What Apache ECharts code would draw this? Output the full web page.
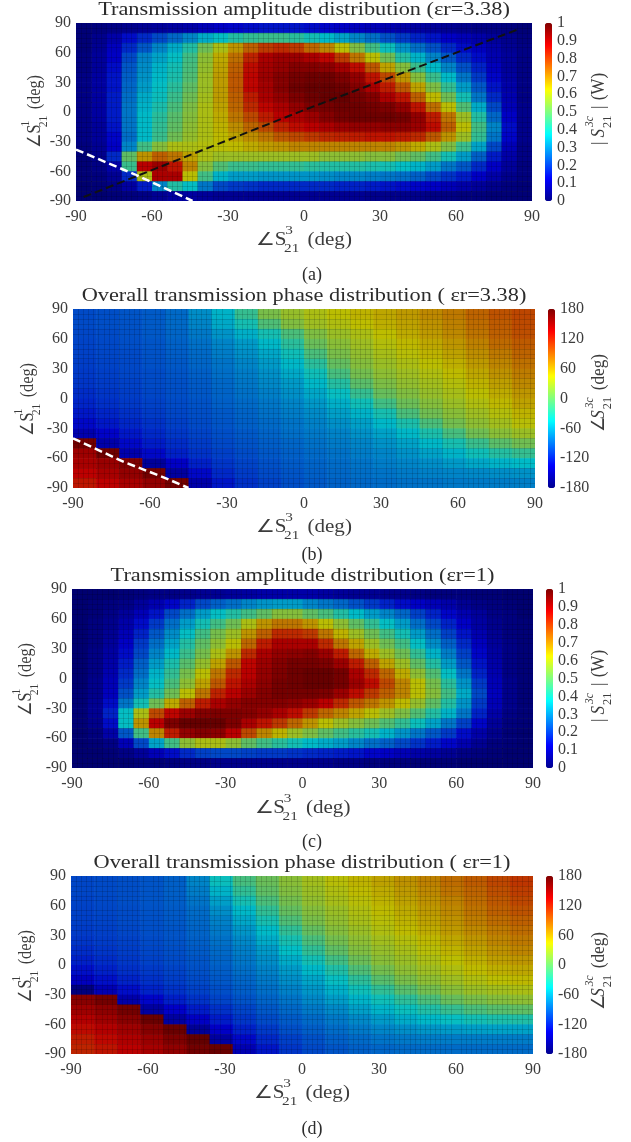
<!DOCTYPE html>
<html><head><meta charset="utf-8">
<style>html,body{margin:0;padding:0;background:#fff}#c{width:631px;height:1142px}</style>
<script src="https://cdn.jsdelivr.net/npm/echarts@6/dist/echarts.min.js"></script>
</head><body><div id="c"></div>
<script>
// x cell centres (deg), y cell centres (deg)
const s3Amp=[-87,-81,-75,-69,-63,-57,-51,-45,-39,-33,-27,-21,-15,-9,-3,3,9,15,21,27,33,39,45,51,57,63,69,75,81,87];
const s3Phase=[-85.5,-76.5,-67.5,-58.5,-49.5,-40.5,-31.5,-22.5,-13.5,-4.5,4.5,13.5,22.5,31.5,40.5,49.5,58.5,67.5,76.5,85.5];
const s1Centers=[85,75,65,55,45,35,25,15,5,-5,-15,-25,-35,-45,-55,-65,-75,-85];
const titles=['Transmission amplitude distribution (εr=3.38)','Overall transmission phase distribution ( εr=3.38)','Transmission amplitude distribution (εr=1)','Overall transmission phase distribution ( εr=1)'];
const captions=['(a)','(b)','(c)','(d)'];
// amplitude, percent of 1 W
const amplitudeA=[
[1,2,3,4,5,6,7,8,10,12,13,14,15,15,15,14,13,12,11,10,9,8,7,6,5,4,3,3,2,1],
[1,4,8,14,18,22,26,30,35,38,42,44,45,45,43,40,37,34,30,27,23,20,17,15,12,10,8,6,4,2],
[1,5,11,18,24,30,35,42,52,60,68,75,80,82,80,74,70,62,54,46,39,32,27,23,18,14,11,8,5,3],
[2,6,12,22,30,34,38,46,56,65,73,83,90,92,92,90,87,80,72,62,52,42,36,30,24,18,14,9,6,3],
[2,6,14,24,31,36,40,47,57,66,75,86,91,93,95,95,94,91,86,76,66,55,45,37,30,23,17,11,6,3],
[3,7,15,25,32,37,41,48,58,67,76,87,92,95,97,98,98,96,93,85,78,68,55,45,37,28,20,13,7,3],
[3,7,15,26,33,38,43,50,58,67,76,87,91,95,98,99,99,98,95,90,84,76,66,54,44,33,24,15,8,3],
[3,7,16,27,35,39,45,52,59,67,75,84,90,93,96,98,99,99,97,95,90,85,75,63,52,40,28,18,9,3],
[3,7,16,28,36,41,47,54,60,66,74,82,87,90,93,96,97,98,98,97,96,93,85,73,62,48,35,22,10,4],
[3,7,16,28,37,43,49,55,60,65,72,78,84,88,90,92,95,97,98,98,98,97,93,84,72,58,42,26,12,4],
[3,6,15,28,37,44,50,56,60,64,69,74,78,83,86,88,90,92,93,93,94,94,92,86,75,62,46,30,14,4],
[3,6,13,27,37,45,52,57,60,63,66,69,72,76,78,80,82,83,84,85,85,84,82,76,68,58,44,28,13,4],
[2,5,12,30,46,55,60,60,61,62,63,65,67,68,70,70,70,70,70,70,70,68,65,60,54,45,34,22,10,3],
[1,4,18,50,68,75,72,66,60,58,58,58,58,58,58,58,56,56,56,55,55,52,50,46,40,33,25,16,8,3],
[1,3,8,45,88,92,85,70,55,48,45,45,44,44,44,43,42,42,42,41,40,38,36,33,28,24,18,12,6,2],
[1,2,5,18,60,90,90,62,46,36,33,33,32,32,32,32,31,30,30,29,28,27,25,22,19,16,12,8,4,2],
[0,1,3,7,16,30,42,38,28,22,20,19,18,18,18,18,18,17,17,16,15,14,13,12,10,8,6,4,2,1],
[0,0,1,2,3,5,7,7,6,5,5,5,5,5,5,5,5,5,5,4,4,4,4,3,3,2,2,1,1,1]];
const phaseB=[
[-100,-98,-95,-92,-85,-68,-50,-20,12,26,36,44,50,56,62,70,78,88,96,102],
[-100,-98,-96,-92,-85,-72,-55,-35,-8,16,30,38,45,52,58,66,74,84,92,100],
[-102,-100,-97,-93,-87,-78,-65,-52,-35,-10,15,28,36,45,54,62,70,80,90,98],
[-103,-101,-98,-95,-89,-82,-72,-62,-48,-25,5,20,30,40,48,56,64,74,85,92],
[-104,-102,-100,-96,-91,-85,-76,-67,-56,-38,-10,12,24,34,42,50,58,68,78,88],
[-106,-103,-101,-97,-93,-87,-80,-72,-62,-48,-25,2,18,28,36,44,52,62,72,82],
[-108,-105,-102,-99,-95,-90,-83,-76,-67,-55,-38,-12,10,22,30,38,46,56,66,76],
[-110,-107,-104,-100,-97,-92,-86,-79,-71,-62,-48,-28,-2,14,24,32,40,50,60,70],
[-114,-110,-106,-102,-98,-94,-88,-82,-75,-67,-56,-42,-20,4,16,26,34,44,54,64],
[-118,-113,-108,-104,-100,-96,-90,-85,-79,-72,-63,-52,-38,-14,6,18,28,38,48,58],
[-124,-118,-112,-107,-102,-98,-93,-88,-82,-76,-69,-60,-50,-34,-10,8,20,30,40,50],
[-132,-124,-117,-111,-105,-100,-95,-90,-85,-80,-74,-67,-59,-48,-32,-10,10,22,32,42],
[-148,-134,-124,-116,-109,-103,-98,-93,-88,-83,-78,-73,-66,-58,-48,-32,-12,8,20,28],
[170,-150,-132,-122,-114,-107,-101,-96,-91,-87,-82,-77,-72,-66,-58,-48,-34,-18,-2,8],
[150,172,-148,-132,-120,-111,-105,-99,-94,-90,-85,-81,-76,-72,-66,-58,-50,-38,-28,-20],
[145,152,165,-158,-136,-120,-110,-103,-97,-92,-88,-84,-80,-76,-72,-68,-62,-56,-50,-46],
[135,145,155,170,-155,-132,-116,-107,-100,-95,-90,-86,-83,-80,-77,-74,-72,-70,-68,-66],
[125,135,145,155,170,-150,-125,-112,-104,-98,-93,-89,-86,-84,-82,-80,-78,-77,-76,-75]];
const amplitudeC=[
[0,0,0,1,2,3,3,4,5,5,6,7,8,8,8,8,7,6,5,5,4,4,3,2,2,2,1,1,0,0],
[0,1,2,3,6,9,13,17,22,25,27,30,32,33,33,30,28,26,23,20,17,14,12,10,8,5,3,2,1,0],
[0,1,3,6,10,15,22,27,33,38,42,46,50,55,55,50,47,42,37,33,30,26,21,17,13,9,6,3,2,0],
[0,2,4,8,14,20,27,33,40,46,52,60,68,72,72,68,62,56,50,44,38,33,27,22,17,12,7,4,2,1],
[0,2,5,10,17,24,31,38,46,53,58,68,75,82,82,80,72,64,58,52,46,40,33,27,21,15,9,5,2,1],
[0,2,6,12,20,27,34,42,50,56,62,74,84,90,90,90,82,72,66,58,52,46,38,31,25,18,11,6,3,1],
[0,3,7,14,22,30,37,45,53,60,68,82,90,93,94,95,92,84,74,65,58,52,44,36,29,21,13,7,3,1],
[0,3,8,16,25,33,41,49,57,66,76,87,92,95,97,97,96,92,84,75,66,58,50,42,33,24,15,8,3,1],
[0,3,9,18,27,36,44,53,62,72,82,88,93,96,98,99,99,97,90,82,74,65,56,48,38,28,17,9,3,1],
[0,4,10,20,30,38,47,56,66,76,85,90,94,97,98,99,99,97,92,86,78,70,62,53,43,32,20,10,4,1],
[1,4,11,23,33,42,52,62,72,83,88,92,95,97,97,97,96,92,86,80,75,70,62,55,46,35,22,11,4,1],
[1,5,14,28,40,52,65,75,84,90,93,95,95,95,94,92,88,82,76,72,68,63,57,50,42,32,20,10,4,1],
[1,5,17,38,60,78,87,92,95,96,96,95,93,90,86,80,74,70,66,62,58,54,48,42,36,28,17,8,3,1],
[1,4,14,38,68,88,96,99,99,99,96,90,85,80,74,68,62,58,55,52,48,44,39,34,28,21,13,6,2,1],
[0,2,8,24,46,70,84,93,95,94,88,78,70,64,58,54,50,46,43,40,36,32,28,24,20,14,8,4,1,0],
[0,1,3,10,22,34,46,56,60,60,56,50,46,43,40,37,35,33,30,27,25,22,19,16,13,9,5,2,1,0],
[0,0,1,3,6,10,14,18,21,22,22,21,20,20,19,18,17,16,15,13,12,10,8,7,5,3,2,1,0,0],
[0,0,0,0,1,1,2,3,3,4,4,4,4,4,4,4,4,3,3,2,2,2,1,1,1,0,0,0,0,0]];
const phaseD=[
[-102,-100,-98,-95,-90,-72,-40,-12,5,20,32,42,50,58,66,74,84,92,102,110],
[-102,-100,-98,-95,-90,-76,-50,-22,0,16,28,38,46,54,62,70,80,88,98,106],
[-103,-101,-98,-95,-91,-80,-60,-35,-10,10,24,34,42,50,58,66,74,84,94,102],
[-104,-102,-99,-96,-92,-84,-68,-48,-22,2,18,28,38,46,54,62,70,80,90,96],
[-105,-103,-100,-97,-93,-86,-74,-56,-34,-8,12,24,34,42,50,58,66,76,84,90],
[-107,-105,-102,-98,-95,-88,-78,-64,-46,-22,2,18,28,38,46,54,62,70,78,84],
[-110,-107,-104,-100,-96,-90,-82,-70,-54,-34,-10,10,22,32,40,48,56,64,72,78],
[-114,-110,-106,-102,-98,-92,-85,-75,-62,-44,-22,0,16,26,34,42,50,58,66,72],
[-120,-114,-109,-104,-100,-95,-88,-79,-68,-54,-36,-14,6,20,28,36,44,52,60,64],
[-128,-120,-113,-108,-103,-97,-91,-83,-73,-62,-48,-30,-8,10,22,30,38,46,52,56],
[-140,-128,-119,-112,-106,-100,-94,-87,-78,-68,-57,-42,-24,-4,12,22,30,38,44,48],
[-172,-145,-129,-119,-111,-104,-98,-91,-83,-74,-64,-52,-38,-22,-4,10,20,28,32,36],
[160,170,-150,-133,-121,-111,-103,-96,-88,-80,-71,-61,-50,-38,-24,-10,4,12,18,22],
[150,158,170,-155,-135,-122,-112,-103,-94,-86,-78,-70,-60,-50,-40,-30,-20,-10,-4,0],
[140,150,160,175,-155,-137,-122,-110,-100,-92,-85,-78,-70,-62,-54,-48,-42,-36,-32,-30],
[130,140,150,162,175,-160,-136,-120,-108,-98,-91,-84,-78,-72,-68,-64,-62,-60,-58,-58],
[122,132,142,152,165,178,-155,-132,-116,-105,-97,-90,-85,-80,-78,-76,-76,-76,-76,-76],
[118,126,136,146,156,170,175,-145,-125,-110,-101,-95,-90,-87,-85,-84,-84,-84,-84,-84]];
// dashed guide lines
const whiteDashA=[[-90,-38],[-66,-64],[-44,-90]];
const blackDashA=[[-87,-86],[0,2],[85,84]];
const whiteDashB=[[-90,-40],[-70,-64],[-55,-79],[-45,-90]];

const FONT='"Liberation Serif","Times New Roman",serif';
const INK='#3c3c3c';
const JET=['#00008f','#0000ff','#0080ff','#00ffff','#80ff80','#ffff00','#ff8000','#ff0000','#800000'];
const layout=[
 {l:76,r:532,t:23,b:201,cl:545,cw:7,ty:10,xy:240,cy:275,yl:35,ylc:110,cbx:599,cbc:105,data:amplitudeA,amp:true},
 {l:73,r:535,t:309,b:488,cl:548,cw:7,ty:296,xy:527,cy:555,yl:28,ylc:398,cbx:599,cbc:390,data:phaseB,amp:false},
 {l:72,r:533,t:589,b:768,cl:546,cw:7,ty:576,xy:808,cy:842,yl:26,ylc:678,cbx:599,cbc:682,data:amplitudeC,amp:true},
 {l:71,r:533,t:876,b:1054,cl:546,cw:7,ty:863,xy:1093,cy:1129,yl:26,ylc:965,cbx:599,cbc:968,data:phaseD,amp:false}];

function flat(m,xs){const o=[];m.forEach((row,i)=>row.forEach((v,j)=>o.push([xs[j],s1Centers[i],v])));return o;}
const dim=c=>{const a=echarts.color.parse(c);return 'rgb('+Math.round(a[0]*.74)+','+Math.round(a[1]*.74)+','+Math.round(a[2]*.78)+')';};
const cellRenderer=(dx,dy)=>(p,api)=>{
 const c=api.coord([api.value(0),api.value(1)]),s=api.size([dx,dy]);
 return {type:'rect',shape:{x:c[0]-s[0]/2,y:c[1]-s[1]/2,width:s[0]+.6,height:s[1]+.6},
  style:{fill:dim(api.visual('color'))}};
};
function math(x,y,rot,parts,sc){
 return {type:'group',x,y,rotation:rot,scaleX:sc||1,children:parts.map(p=>({type:'text',x:p[1],y:p[2],silent:true,
  style:{text:p[0],fill:INK,font:(p[4]?'italic ':'')+p[3]+'px '+FONT,textVerticalAlign:'middle'}}))};
}
const xl=(cx,y)=>math(cx-48,y,0,[['∠S',0,0,18],['3',25,-9,13],['21',24,9,13],['(deg)',44,0,18]],1.17);
const yl=(x,cy)=>math(x,cy+38,Math.PI/2,[['∠S',0,0,18],['1',24,-9,13],['21',23,9,13],['(deg)',43,0,18]],0.9);
const cbAmp=(x,cy)=>math(x,cy+40,Math.PI/2,[['|',0,0,18],['S',8,0,18,1],['3c',19,-9,12,1],['21',18,9,13],['|',38,0,18],['(W)',47,0,18]],0.95);
const cbPh=(x,cy)=>math(x,cy+42,Math.PI/2,[['∠',0,0,18],['S',14,0,18,1],['3c',25,-9,12,1],['21',24,9,13],['(deg)',44,0,18]],0.95);

const opt={animation:false,backgroundColor:'#fff',grid:[],xAxis:[],yAxis:[],series:[],visualMap:[],graphic:[]};
layout.forEach((p,i)=>{
 opt.graphic.push({type:'text',x:(p.l+p.r)/2,y:p.ty,scaleX:1.24,silent:true,
  style:{text:titles[i],fill:'#2c2c2c',font:'18px '+FONT,textAlign:'center',textVerticalAlign:'middle'}});
 opt.grid.push({left:p.l,width:p.r-p.l,top:p.t,height:p.b-p.t,containLabel:false});
 const mesh={show:true,lineStyle:{color:'rgba(0,0,0,0.14)',width:1}};
 opt.xAxis.push({type:'value',gridIndex:2*i,min:-90,max:90,interval:30,z:5,
  axisLine:{show:false},axisTick:{show:false},splitLine:{show:false},
  minorTick:{show:false,splitNumber:15},minorSplitLine:mesh,
  axisLabel:{color:INK,fontFamily:FONT,fontSize:16,margin:8}});
 opt.yAxis.push({type:'value',gridIndex:2*i,min:-90,max:90,interval:30,z:5,
  axisLine:{show:false},axisTick:{show:false},splitLine:{show:false},
  minorTick:{show:false,splitNumber:6},minorSplitLine:mesh,
  axisLabel:{color:INK,fontFamily:FONT,fontSize:16,margin:5}});
 // colourbar scale
 opt.grid.push({left:p.cl,width:p.cw,top:p.t,height:p.b-p.t});
 opt.xAxis.push({type:'value',gridIndex:2*i+1,show:false,min:0,max:1});
 opt.yAxis.push({type:'value',gridIndex:2*i+1,position:'right',min:p.amp?0:-180,max:p.amp?1:180,interval:p.amp?0.1:60,
  axisLine:{show:false},axisTick:{show:false},splitLine:{show:false},
  axisLabel:{color:INK,fontFamily:FONT,fontSize:16,margin:5,formatter:v=>String(+v.toFixed(1))}});
 const heatIdx=opt.series.length;
 opt.series.push({type:'custom',xAxisIndex:2*i,yAxisIndex:2*i,coordinateSystem:'cartesian2d',silent:true,
  renderItem:p.amp?cellRenderer(6,10):cellRenderer(9,10),encode:{x:0,y:1},
  data:flat(p.data,p.amp?s3Amp:s3Phase),z:2,clip:true});
 opt.visualMap.push({type:'continuous',seriesIndex:heatIdx,dimension:2,
  min:p.amp?0:-180,max:p.amp?100:180,left:p.cl,top:p.t,padding:0,itemWidth:p.cw,itemHeight:p.b-p.t,
  calculable:false,realtime:false,hoverLink:false,inRange:{color:JET},outOfRange:{color:JET},textStyle:{color:'transparent'},text:null});
 opt.graphic.push(xl((p.l+p.r)/2,p.xy),yl(p.yl,p.ylc),(p.amp?cbAmp:cbPh)(p.cbx,p.cbc));
 opt.graphic.push({type:'text',x:312,y:p.cy,silent:true,style:{text:captions[i],fill:'#2c2c2c',font:'18px '+FONT,textAlign:'center',textVerticalAlign:'middle'}});
});
const dash=(idx,data,color,w)=>({type:'line',xAxisIndex:idx,yAxisIndex:idx,data,symbol:'none',silent:true,z:10,
 lineStyle:{color,width:w,type:[8,4]}});
opt.series.push(dash(0,whiteDashA,'#fff',2.5),dash(0,blackDashA,'#111',2),dash(2,whiteDashB,'#fff',2.5));
echarts.init(document.getElementById('c'),null,{renderer:'canvas'}).setOption(opt);
</script></body></html>
